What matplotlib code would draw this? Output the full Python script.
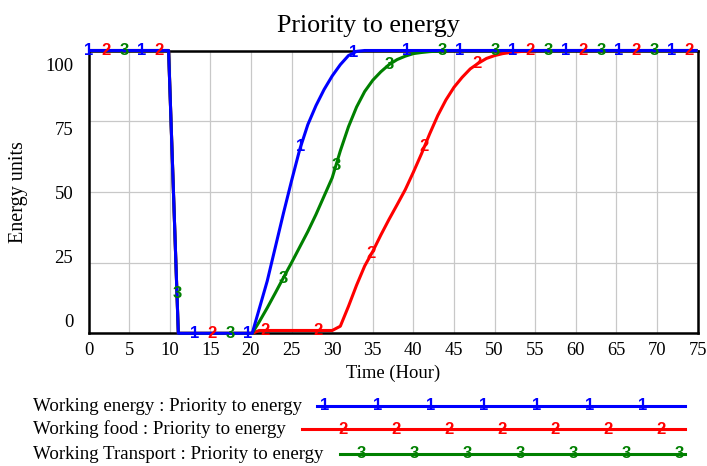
import matplotlib.pyplot as plt
from matplotlib.lines import Line2D
import numpy as np

# time axis (hours) and the three series
hours = [0, 9.85, 11.05, 20.15] + list(range(21, 57)) + [75]

energy = [100, 100, 0, 0,
          8.5, 18.5, 30.5, 42.5, 54, 65, 73.8, 80.5, 86.2, 91, 95, 98.2, 99.7,
          100, 100, 100, 100, 100, 100, 100, 100, 100, 100, 100, 100,
          100, 100, 100, 100, 100, 100, 100, 100, 100, 100, 100,
          100]

food = [100, 100, 0, 0,
        1, 1, 1, 1, 1, 1, 1, 1, 1, 1,
        2.5, 9.5, 17, 23.8, 29, 34.8, 40.3, 45.5, 50.8, 57, 63.5, 70.5, 77,
        82.5, 87, 90.5, 93.5, 95.5, 97.2, 98.2, 98.9, 99.3, 99.6, 99.8, 99.9, 100,
        100]

transport = [100, 100, 0, 0,
             4, 9, 14.3, 19.7, 25, 30.5, 36, 42, 48.5, 55, 64.5, 73, 80, 85.5,
             89.5, 92.5, 95, 96.8, 98, 98.9, 99.3, 99.6, 99.8,
             100, 100, 100, 100, 100, 100, 100, 100, 100, 100, 100, 100, 100,
             100]

series_labels = ['Working energy : Priority to energy',
                 'Working food : Priority to energy',
                 'Working Transport : Priority to energy']
series_colors = ['#0000ff', '#ff0000', '#008000']
series_digits = ['1', '2', '3']

xtick_vals = list(range(0, 76, 5))
ytick_vals = [0, 25, 50, 75, 100]

plt.rcParams['font.family'] = 'Liberation Serif'

W, H = 707, 466
fig = plt.figure(figsize=(W / 100, H / 100), dpi=100)
ax = fig.add_axes([88.6 / W, 1 - 333.3 / H, 609 / W, (333.3 - 50.5) / H])

ax.set_xlim(0, 75)
ax.set_ylim(0, 100)

# grid from major ticks, labels from minor ticks (end labels sit inward)
ax.set_xticks(xtick_vals)
ax.set_xticklabels([str(v) for v in xtick_vals])
ax.set_yticks(ytick_vals)
ax.set_yticklabels([''] * len(ytick_vals))
ax.set_yticks(np.linspace(4.5, 95.2, len(ytick_vals)), minor=True)
ax.set_yticklabels([str(v) for v in ytick_vals], minor=True)
ax.grid(True, which='major', color='#c8c8c8', linewidth=0.9)
ax.tick_params(which='both', length=0)
ax.tick_params(axis='x', labelsize=13.3, pad=6)
ax.tick_params(axis='y', which='minor', labelsize=13.5, pad=11)

for s in ax.spines.values():
    s.set_linewidth(1.8)
    s.set_color('black')

# lines, drawn red, green, blue so blue is on top
order = [1, 2, 0]
data = [energy, food, transport]
for i in order:
    ax.plot(hours, data[i], color=series_colors[i], lw=2.2, zorder=3,
            clip_on=False, solid_capstyle='butt')

# numbered markers along the lines
marker_start = [0, 2.17, 4.35]
for i in range(3):
    xs = np.arange(marker_start[i], 75.01, 6.53)
    ys = np.interp(xs, hours, data[i])
    for xm, ym in zip(xs, ys):
        ax.text(xm, ym, series_digits[i], color=series_colors[i],
                family='Liberation Sans', fontweight='bold', fontsize=12,
                ha='center', va='center', zorder=5, clip_on=False)

fig.text(368 / W, 1 - 31.7 / H, 'Priority to energy', fontsize=18.7,
         ha='center', va='baseline')
fig.text(19 / W, 1 - 192 / H, 'Energy units', rotation=90, fontsize=14.5,
         ha='center', va='center')
fig.text(393 / W, 1 - 378 / H, 'Time (Hour)', fontsize=13.4,
         ha='center', va='baseline')

# legend below the chart
leg_y = [406, 429, 454]
leg_x0 = [317, 302, 340]
leg_first = [325, 343, 361]
for i in range(3):
    y = 1 - leg_y[i] / H
    fig.text(33 / W, 1 - (leg_y[i] + 5) / H, series_labels[i], fontsize=13.6,
             va='baseline')
    fig.add_artist(Line2D([leg_x0[i] / W, 685 / W], [y, y],
                          transform=fig.transFigure,
                          color=series_colors[i], lw=2.2))
    for xm in np.arange(leg_first[i], 686, 53):
        fig.text(xm / W, y, series_digits[i], color=series_colors[i],
                 family='Liberation Sans', fontweight='bold', fontsize=12,
                 ha='center', va='center')

fig.savefig('out.png', dpi=100)
